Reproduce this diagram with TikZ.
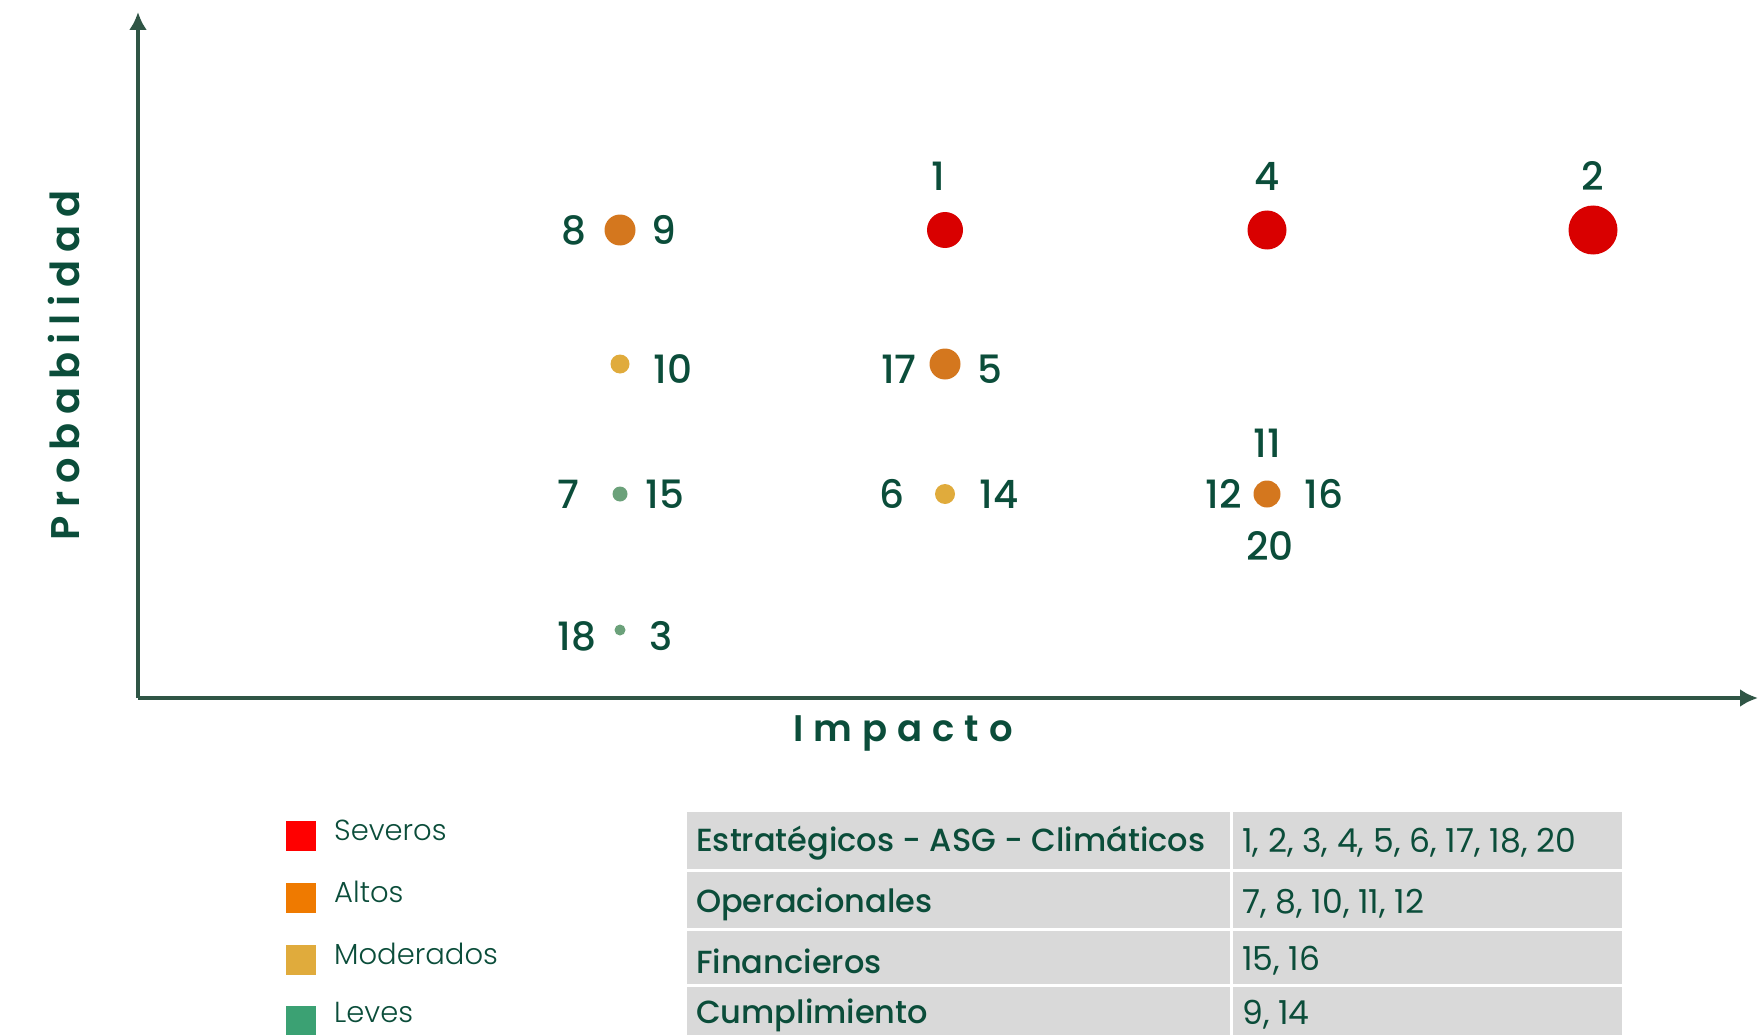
\documentclass[tikz,border=0pt]{standalone}
\usepackage{fontspec}
\setmainfont{Poppins}
\newfontfamily\popmed{Poppins Medium}
\newfontfamily\poplight{Poppins Light}
\newfontfamily\popsemi{Poppins SemiBold}
\usetikzlibrary{arrows.meta}
\definecolor{txt}{HTML}{0B4D3A}
\definecolor{axis}{HTML}{2F5545}
\definecolor{dred}{HTML}{D90000}
\definecolor{dorange}{HTML}{D4771E}
\definecolor{dyellow}{HTML}{E0AB3C}
\definecolor{dgreen}{HTML}{6BA17A}
\definecolor{lred}{HTML}{FF0000}
\definecolor{lorange}{HTML}{EF7A00}
\definecolor{lyellow}{HTML}{E0AB3C}
\definecolor{lgreen}{HTML}{3BA173}
\definecolor{cellgray}{HTML}{D9D9D9}
\begin{document}
\begin{tikzpicture}[x=1pt,y=-1pt,
  num/.style={text=txt,inner sep=0pt,font=\popmed\fontsize{39}{41}\selectfont},
  dot/.style={circle,inner sep=0pt,draw=none},
  legsq/.style={fill=#1,draw=none,minimum width=30pt,minimum height=30pt,inner sep=0pt,anchor=north west},
  legtxt/.style={text=txt,inner sep=0pt,anchor=west,font=\poplight\fontsize{29}{32}\selectfont},
  cell/.style={fill=cellgray,draw=none,inner sep=0pt,anchor=north west},
  celltxt/.style={text=txt,inner sep=0pt,anchor=west,font=\popmed\fontsize{32}{34}\selectfont},
  cellnum/.style={text=txt,inner sep=0pt,anchor=west,font=\fontsize{33}{35}\selectfont},
  axline/.style={draw=axis,line width=4pt}
]
\useasboundingbox (0,0) rectangle (1758,1035);
\clip (0,0) rectangle (1758,1035);
% axes
\coordinate (O) at (138,698);
\coordinate (ytop) at (138,12);
\coordinate (xend) at (1758,698);
\draw[axline,-{Latex[length=18pt,width=18pt]}] (O) -- (ytop);
\draw[axline,-{Latex[length=18pt,width=18pt]}] (O) -- (xend);
\node[text=txt,rotate=90,inner sep=0pt,font=\popsemi\fontsize{40}{42}\selectfont\addfontfeatures{LetterSpace=20}] (ylab) at (64,365) {Probabilidad};
\node[text=txt,inner sep=0pt,font=\popsemi\fontsize{37}{40}\selectfont\addfontfeatures{LetterSpace=27}] (xlab) at (903,733) {Impacto};
% dots
\node[dot,fill=dorange,minimum size=31pt] (d89) at (620,230) {};
\node[dot,fill=dred,minimum size=36pt] (d1) at (945,230) {};
\node[dot,fill=dred,minimum size=39pt] (d4) at (1267,230) {};
\node[dot,fill=dred,minimum size=49pt] (d2) at (1593,230) {};
\node[dot,fill=dyellow,minimum size=19pt] (d10) at (620,364) {};
\node[dot,fill=dorange,minimum size=31pt] (d175) at (945,364) {};
\node[dot,fill=dgreen,minimum size=15pt] (d715) at (620,494) {};
\node[dot,fill=dyellow,minimum size=20pt] (d614) at (945,494) {};
\node[dot,fill=dorange,minimum size=27pt] (d12) at (1267,494) {};
\node[dot,fill=dgreen,minimum size=11pt] (d183) at (620,630) {};
% labels
\node[num] (n1) at (938,176) {1};
\node[num] (n4) at (1267,176) {4};
\node[num] (n2) at (1593,176) {2};
\node[num] (n8) at (574,230) {8};
\node[num] (n9) at (664,230) {9};
\node[num] (n10) at (673,369) {10};
\node[num] (n17) at (899,369) {17};
\node[num] (n5) at (990,369) {5};
\node[num] (n7) at (568,494) {7};
\node[num] (n15) at (665,494) {15};
\node[num] (n6) at (892,494) {6};
\node[num] (n14) at (999,494) {14};
\node[num] (n11) at (1267,443) {11};
\node[num] (n12) at (1224,494) {12};
\node[num] (n16) at (1324,494) {16};
\node[num] (n20) at (1270,546) {20};
\node[num] (n18) at (577,636) {18};
\node[num] (n3) at (661,636) {3};
% legend
\node[legsq=lred] (s1) at (286,821) {};
\node[legsq=lorange] (s2) at (286,883) {};
\node[legsq=lyellow] (s3) at (286,945) {};
\node[legsq=lgreen] (s4) at (286,1006) {};
\node[legtxt] (l1) at (334,830) {Severos};
\node[legtxt] (l2) at (334,892) {Altos};
\node[legtxt] (l3) at (334,954) {Moderados};
\node[legtxt] (l4) at (334,1012) {Leves};
% table
\node[cell,minimum width=543pt,minimum height=57pt] (c11) at (687,812) {};
\node[cell,minimum width=389pt,minimum height=57pt] (c12) at (1233,812) {};
\node[cell,minimum width=543pt,minimum height=56pt] (c21) at (687,872) {};
\node[cell,minimum width=389pt,minimum height=56pt] (c22) at (1233,872) {};
\node[cell,minimum width=543pt,minimum height=53pt] (c31) at (687,931) {};
\node[cell,minimum width=389pt,minimum height=53pt] (c32) at (1233,931) {};
\node[cell,minimum width=543pt,minimum height=60pt] (c41) at (687,987) {};
\node[cell,minimum width=389pt,minimum height=60pt] (c42) at (1233,987) {};
\node[celltxt] (t11) at (696,843) {Estratégicos - ASG - Climáticos};
\node[cellnum] (t12) at (1242,843) {1, 2, 3, 4, 5, 6, 17, 18, 20};
\node[celltxt] (t21) at (696,904) {Operacionales};
\node[cellnum] (t22) at (1242,904) {7, 8, 10, 11, 12};
\node[celltxt] (t31) at (696,961) {Financieros};
\node[cellnum] (t32) at (1242,961) {15, 16};
\node[celltxt] (t41) at (696,1015) {Cumplimiento};
\node[cellnum] (t42) at (1242,1015) {9, 14};
\end{tikzpicture}
\end{document}
